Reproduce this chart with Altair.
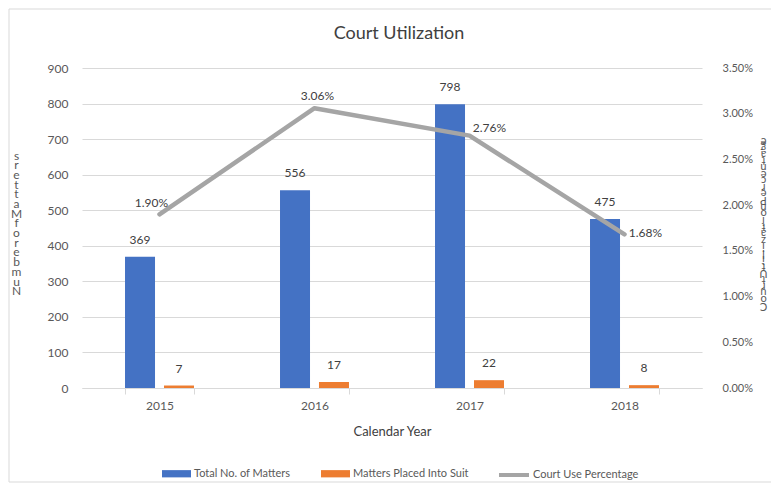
import altair as alt
import pandas as pd

years = ["2015", "2016", "2017", "2018"]
total_matters = [369, 556, 798, 475]
suit_matters = [7, 17, 22, 8]
court_use_pct = [0.0190, 0.0306, 0.0276, 0.0168]
series_names = ["Total No. of Matters", "Matters Placed Into Suit"]
line_name = "Court Use Percentage"
left_ticks = [0, 100, 200, 300, 400, 500, 600, 700, 800, 900]
right_ticks = [0, 0.005, 0.01, 0.015, 0.02, 0.025, 0.03, 0.035]

FONT = "Lato"
TXT = "#595959"
GRID = "#D9D9D9"
BLUE, ORANGE, GRAY = "#4472C4", "#ED7D31", "#A5A5A5"

bar_rows = []
for i, y in enumerate(years):
    bar_rows.append({"year": y, "series": series_names[0], "value": total_matters[i]})
    bar_rows.append({"year": y, "series": series_names[1], "value": suit_matters[i]})
bars_df = pd.DataFrame(bar_rows)
line_df = pd.DataFrame({"year": years, "pct": court_use_pct, "name": [line_name] * 4})

x_axis = alt.Axis(title="Calendar Year", labelAngle=0, tickBand="extent",
                  domainColor=GRID, tickColor=GRID, tickSize=6,
                  labelPadding=6, titlePadding=14, labelFontSize=12,
                  titleFontSize=13, labelColor=TXT, titleColor="#404040",
                  titleFontWeight="normal")
x_scale = alt.Scale(paddingInner=0.555, paddingOuter=0.2775)
x_enc = alt.X("year:N", sort=years, scale=x_scale, axis=x_axis)
xoff = alt.XOffset("series:N", sort=series_names,
                   scale=alt.Scale(domain=series_names, paddingInner=0.23, paddingOuter=0))

left_title = list("srettaMforebmuN")
right_title = list("Court Utilization Percentage")

y_left_scale = alt.Scale(domain=[0, 900], nice=False)
y_left_axis = alt.Axis(values=left_ticks, domain=False, ticks=False, grid=True,
                       gridColor=GRID, gridWidth=1, labelPadding=14, labelFontSize=12,
                       labelColor=TXT, title=left_title, titleAngle=0, titleX=-66,
                       titleY=82, titleAlign="center", titleBaseline="top",
                       titleLineHeight=9.7, titleFontSize=12, titleFontWeight="normal",
                       titleColor=TXT, labelOverlap=False)

bars = alt.Chart(bars_df).mark_bar().encode(
    x=x_enc,
    xOffset=xoff,
    y=alt.Y("value:Q", scale=y_left_scale, axis=y_left_axis),
    color=alt.Color("series:N", sort=series_names,
                    scale=alt.Scale(domain=series_names, range=[BLUE, ORANGE]),
                    legend=alt.Legend(orient="none", legendX=80, legendY=391,
                                      direction="horizontal", title=None,
                                      symbolType="M-1,-0.25H1V0.25H-1Z", symbolSize=841,
                                      symbolStrokeWidth=0, labelFontSize=11,
                                      labelColor=TXT, labelFont=FONT, columnPadding=30,
                                      labelOffset=3)),
)
bar_text = alt.Chart(bars_df).mark_text(dy=-17, baseline="middle", fontSize=12,
                                        color="#404040", font=FONT).encode(
    x=x_enc,
    xOffset=xoff,
    y=alt.Y("value:Q", scale=y_left_scale, axis=y_left_axis),
    text=alt.Text("value:Q"),
)
left = alt.layer(bars, bar_text)

y_right_scale = alt.Scale(domain=[0, 0.035], nice=False)
y_right_axis = alt.Axis(orient="right", values=right_ticks, format=".2%", domain=False,
                        ticks=False, grid=False, labelPadding=20, labelFontSize=11,
                        labelColor=TXT, title=right_title, titleAngle=180, titleX=61,
                        titleY=243, titleAlign="center", titleBaseline="top",
                        titleLineHeight=6.6, titleFontSize=11, titleFontWeight="normal",
                        titleColor=TXT, labelOverlap=False)

line = alt.Chart(line_df).mark_line(strokeWidth=4.5, strokeCap="round",
                                    strokeJoin="round").encode(
    x=x_enc,
    y=alt.Y("pct:Q", scale=y_right_scale, axis=y_right_axis),
    stroke=alt.Stroke("name:N", scale=alt.Scale(domain=[line_name], range=[GRAY]),
                      legend=alt.Legend(orient="none", legendX=415, legendY=390,
                                        title=None, symbolType="stroke", symbolSize=900,
                                        symbolStrokeWidth=4, labelFontSize=11,
                                        labelColor=TXT, labelFont=FONT, labelOffset=2)),
)

offsets = {"2015": (-8, -11), "2016": (3, -12), "2017": (20, -8), "2018": (21, -1)}
line_labels = []
for yr, (dx, dy) in offsets.items():
    line_labels.append(
        alt.Chart(line_df).transform_filter(alt.datum.year == yr).mark_text(
            dx=dx, dy=dy, baseline="middle", align="center", fontSize=12,
            color="#404040", font=FONT).encode(
            x=x_enc,
            y=alt.Y("pct:Q", scale=y_right_scale, axis=y_right_axis),
            text=alt.Text("pct:Q", format=".2%"),
        )
    )
right = alt.layer(line, *line_labels)

frame = alt.Chart(pd.DataFrame({"a": [0]})).mark_rect(
    fill="white", fillOpacity=0, stroke=GRID, strokeWidth=1).encode(
    x=alt.value(-73), x2=alt.value(720), y=alt.value(-59), y2=alt.value(414))

chart = alt.layer(frame, left, right).resolve_scale(y="independent").properties(
    width=620, height=320,
    title=alt.TitleParams("Court Utilization", fontSize=18, fontWeight="normal",
                          color="#404040", font=FONT, offset=0, dy=34, dx=7,
                          frame="group"),
    autosize=alt.AutoSizeParams(type="none"),
    padding={"left": 74, "top": 60, "right": 69, "bottom": 96},
).configure(font=FONT).configure_view(stroke=None).configure_axis(
    labelFont=FONT, titleFont=FONT)

chart.save("out.html", embed_options={"renderer": "svg", "actions": False})
